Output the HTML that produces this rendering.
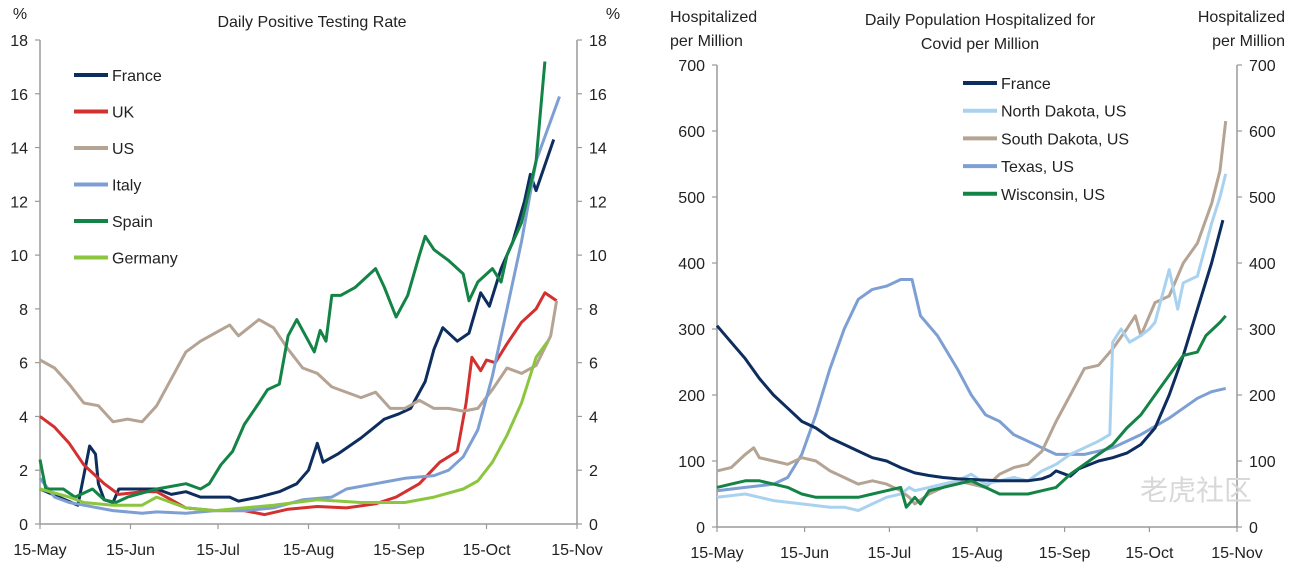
<!DOCTYPE html>
<html><head><meta charset="utf-8"><style>
body{margin:0;background:#fff;width:1296px;height:563px;overflow:hidden;font-family:"Liberation Sans",Arial,sans-serif}
svg text{font-family:"Liberation Sans",Arial,sans-serif;fill:#222}
</style></head><body>
<svg id="chart" width="1296" height="563" viewBox="0 0 1296 563" xmlns="http://www.w3.org/2000/svg"></svg>
<script>
// ---------- data (x = days since 15-May) ----------
const xTickLabels = ["15-May","15-Jun","15-Jul","15-Aug","15-Sep","15-Oct","15-Nov"];
const xTickDays = [0,31,61,92,123,153,184];
const leftYTicks = [0,2,4,6,8,10,12,14,16,18];
const rightYTicks = [0,100,200,300,400,500,600,700];
const leftNames = ["France","UK","US","Italy","Spain","Germany"];
const rightNames = ["France","North Dakota, US","South Dakota, US","Texas, US","Wisconsin, US"];

const franceRateDays=[0,13,15,17,19,20,22,25,27,40,45,50,55,65,68,75,82,88,92,95,97,102,110,118,123,127,132,135,138,141,143,147,151,154,158,162,166,168,170,176];
const franceRateVals=[1.3,0.7,1.8,2.9,2.6,1.5,0.9,0.8,1.3,1.3,1.1,1.2,1.0,1.0,0.85,1.0,1.2,1.5,2.0,3.0,2.3,2.6,3.2,3.9,4.1,4.3,5.3,6.5,7.3,7.0,6.8,7.1,8.6,8.1,9.5,10.5,12.0,13.0,12.4,14.3];
const ukDays=[0,5,10,15,18,22,27,35,40,45,50,60,70,77,85,95,105,115,122,130,137,143,146,148,151,153,156,160,165,170,173,177];
const ukVals=[4.0,3.6,3.0,2.2,1.9,1.5,1.1,1.2,1.2,0.9,0.6,0.5,0.5,0.35,0.55,0.65,0.6,0.75,1.0,1.5,2.3,2.7,4.5,6.2,5.7,6.1,6.0,6.7,7.5,8.0,8.6,8.3];
const usDays=[0,5,10,15,20,25,30,35,40,45,50,55,60,65,68,75,80,85,90,95,100,110,115,120,125,130,135,140,145,150,155,160,165,170,175,177];
const usVals=[6.1,5.8,5.2,4.5,4.4,3.8,3.9,3.8,4.4,5.4,6.4,6.8,7.1,7.4,7.0,7.6,7.3,6.5,5.8,5.6,5.1,4.7,4.9,4.3,4.3,4.6,4.3,4.3,4.2,4.3,5.0,5.8,5.6,5.9,7.0,8.3];
const italyDays=[0,5,10,15,25,35,40,50,60,70,80,90,100,105,115,125,135,140,145,150,155,160,165,170,175,178];
const italyVals=[1.7,1.0,0.8,0.7,0.5,0.4,0.45,0.4,0.5,0.5,0.6,0.9,1.0,1.3,1.5,1.7,1.8,2.0,2.5,3.5,5.5,8.0,10.5,13.5,15.0,15.9];
const spainDays=[0,2,8,12,18,22,26,30,40,45,50,55,58,62,66,70,75,78,82,85,88,92,94,96,98,100,103,108,112,115,118,122,126,130,132,135,140,145,147,150,155,158,160,165,170,173];
const spainVals=[2.4,1.3,1.3,1.0,1.3,0.9,0.8,1.0,1.3,1.4,1.5,1.3,1.5,2.2,2.7,3.7,4.5,5.0,5.2,7.0,7.6,6.8,6.4,7.2,6.8,8.5,8.5,8.8,9.2,9.5,8.8,7.7,8.5,10.0,10.7,10.2,9.8,9.3,8.3,9.0,9.5,9.0,10.0,11.2,13.5,17.2];
const germanyDays=[0,10,15,25,35,40,45,50,60,70,80,95,110,125,135,145,150,155,160,165,170,174];
const germanyVals=[1.3,1.0,0.8,0.7,0.7,1.0,0.8,0.6,0.5,0.6,0.7,0.9,0.8,0.8,1.0,1.3,1.6,2.3,3.3,4.5,6.2,6.8];

const frHospDays=[0,5,10,15,20,25,30,35,40,45,50,55,60,65,70,75,80,85,90,95,100,105,110,115,118,120,125,128,135,140,145,150,155,160,165,170,175,179];
const frHospVals=[305,280,255,225,200,180,160,150,135,125,115,105,100,90,82,78,75,73,72,71,70,70,70,73,78,85,77,88,100,105,112,125,150,200,260,330,400,465];
const ndDays=[0,10,20,30,40,45,50,55,60,65,68,70,75,80,85,90,95,100,105,110,115,120,125,130,135,139,140,143,146,150,153,155,160,163,165,170,175,178,180];
const ndVals=[45,50,40,35,30,30,25,35,45,50,60,55,60,65,70,80,65,70,75,70,85,95,110,120,130,140,280,300,280,290,300,310,390,330,370,380,460,500,535];
const sdDays=[0,5,10,13,15,20,25,30,35,40,45,50,55,60,65,68,70,75,80,85,90,95,100,105,110,115,120,125,130,135,140,145,148,150,155,160,165,170,175,178,180];
const sdVals=[85,90,110,120,105,100,95,105,100,85,75,65,70,65,55,45,35,50,60,70,65,60,80,90,95,115,160,200,240,245,270,300,320,290,340,350,400,430,490,540,615];
const txDays=[0,10,20,25,30,35,40,45,50,55,60,65,69,72,78,85,90,95,100,105,110,115,120,130,140,150,160,165,170,175,180];
const txVals=[55,60,65,75,110,170,240,300,345,360,365,375,375,320,290,240,200,170,160,140,130,120,110,110,120,140,165,180,195,205,210];
const wiDays=[0,5,10,15,20,25,30,35,40,45,50,55,60,65,67,70,72,75,80,85,90,95,100,105,110,115,120,125,130,135,140,145,150,155,160,165,170,173,178,180];
const wiVals=[60,65,70,70,65,60,50,45,45,45,45,50,55,60,30,45,35,55,60,65,70,60,50,50,50,55,60,80,95,110,125,150,170,200,230,260,265,290,310,320];

const leftSeries=[[franceRateDays,franceRateVals,"#0d2d5e"],[ukDays,ukVals,"#d2312f"],[usDays,usVals,"#b5a394"],[italyDays,italyVals,"#7d9fd3"],[spainDays,spainVals,"#138445"],[germanyDays,germanyVals,"#8cc63f"]];
const rightSeries=[[txDays,txVals,"#7d9fd3"],[sdDays,sdVals,"#b5a394"],[ndDays,ndVals,"#a9d2f0"],[frHospDays,frHospVals,"#0d2d5e"],[wiDays,wiVals,"#138445"]];
const rightColors=["#0d2d5e","#a9d2f0","#b5a394","#7d9fd3","#138445"];

// ---------- drawing ----------
const svg=document.getElementById('chart');
const NS="http://www.w3.org/2000/svg";
function mk(tag,attrs,parent){const e=document.createElementNS(NS,tag);for(const k in attrs)e.setAttribute(k,attrs[k]);(parent||svg).appendChild(e);return e;}
function txt(x,y,s,anchor,size,parent){const t=mk('text',{x:x,y:y,'text-anchor':anchor||'start','font-size':size||16},parent);t.textContent=s;return t;}

function panel(cfg){
  const g=mk('g',{});
  
  
  const xs=d=>cfg.x0+(cfg.x1-cfg.x0)*d/184;
  const ys=v=>cfg.y0-(cfg.y0-cfg.y1)*v/cfg.ymax;
  const ax='#9a9a9a';
  mk('line',{x1:cfg.x0,y1:cfg.y0,x2:cfg.x0,y2:cfg.y1,stroke:ax,'stroke-width':1.5},g);
  mk('line',{x1:cfg.x1,y1:cfg.y0,x2:cfg.x1,y2:cfg.y1,stroke:ax,'stroke-width':1.5},g);
  mk('line',{x1:cfg.x0,y1:cfg.y0,x2:cfg.x1,y2:cfg.y0,stroke:ax,'stroke-width':1.5},g);
  cfg.yticks.forEach(v=>{
    const y=ys(v);
    mk('line',{x1:cfg.x0-5,y1:y,x2:cfg.x0,y2:y,stroke:ax,'stroke-width':1.2},g);
    mk('line',{x1:cfg.x1,y1:y,x2:cfg.x1+5,y2:y,stroke:ax,'stroke-width':1.2},g);
    const a=txt(cfg.x0-12,y+6,String(v),'end',16,g);
    
    
    const b=txt(cfg.x1+12,y+6,String(v),'start',16,g);
    
    
  });
  xTickDays.forEach((d,i)=>{
    const x=xs(d);
    mk('line',{x1:x,y1:cfg.y0,x2:x,y2:cfg.y0+5,stroke:ax,'stroke-width':1.2},g);
    const t=txt(x,cfg.y0+31,xTickLabels[i],'middle',16,g);
    
    
  });
  cfg.series.forEach(s=>{
    const pts=s[0].map((d,i)=>xs(d).toFixed(1)+','+ys(s[1][i]).toFixed(1)).join(' ');
    const p=mk('polyline',{points:pts,fill:'none',stroke:s[2],'stroke-width':3,'stroke-linejoin':'round'},g);
    
    
  });
  cfg.legend.forEach((n,i)=>{
    const y=cfg.ly+i*cfg.lstep;
    const l=mk('line',{x1:cfg.lx,y1:y,x2:cfg.lx+34,y2:y,stroke:cfg.lcolors[i],'stroke-width':4},g);
    
    
    const t=txt(cfg.lx+38,y+6,n,'start',16,g);
    
    
  });
}
panel({name:'positive-rate-chart',x0:40,x1:577,y0:524,y1:40,ymax:18,yticks:leftYTicks,series:leftSeries,legend:leftNames,lcolors:leftSeries.map(s=>s[2]),lx:74,ly:75,lstep:36.5});
panel({name:'hospitalized-chart',x0:717,x1:1237,y0:527,y1:65,ymax:700,yticks:rightYTicks,series:rightSeries,legend:rightNames,lcolors:rightColors,lx:963,ly:83,lstep:27.7});

function label(x,y,s,a,name){const t=txt(x,y,s,a,16);}
label(312,27,'Daily Positive Testing Rate','middle','left-chart-title');
label(20,19,'%','middle','left-y-axis-title');
label(613,19,'%','middle','right-y-axis-title');
label(980,25,'Daily Population Hospitalized for','middle','right-chart-title-line1');
label(980,49,'Covid per Million','middle','right-chart-title-line2');
label(670,22,'Hospitalized','start','left-axis-title-line1');
label(670,46,'per Million','start','left-axis-title-line2');
label(1285,22,'Hospitalized','end','right-axis-title-line1');
label(1285,46,'per Million','end','right-axis-title-line2');
const w=txt(1140,500,'老虎社区','start',28);
w.setAttribute('fill','#d8d8d8');w.style.fill='#d8d8d8';
w.setAttribute('font-family','"Liberation Sans","Noto Sans CJK SC",sans-serif');


</script>
</body></html>
